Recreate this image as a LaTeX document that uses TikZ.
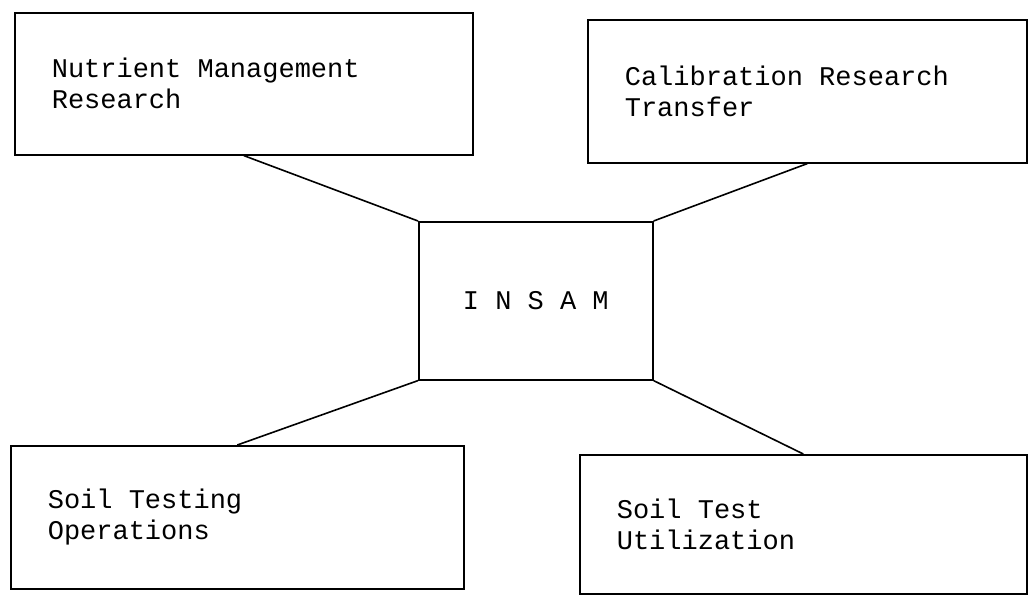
\documentclass[tikz,border=0pt]{standalone}
\usepackage{fontspec}
\setmonofont{Liberation Mono}
\usepackage{tikz}

\begin{document}
\begin{tikzpicture}[x=1pt,y=-1pt,
  panel/.style={draw,line width=1.6pt,anchor=north west,inner xsep=37pt,inner ysep=0pt,
    align=flush left,font=\ttfamily\fontsize{27}{31}\selectfont},
  link/.style={line width=1.6pt}]
\useasboundingbox(0,0)rectangle(1029,599);
% outer boxes
\node[panel,text width=384pt,minimum height=142pt](nutr)at(14,12){Nutrient Management\\Research};
\node[panel,text width=365pt,minimum height=143pt](calib)at(587,19){Calibration Research\\Transfer};
\node[panel,text width=379pt,minimum height=143pt](soil)at(10,445){Soil Testing\\Operations};
\node[panel,text width=373pt,minimum height=139pt](util)at(579,454){Soil Test\\Utilization};
% centre box
\node[panel,align=center,inner xsep=0pt,minimum width=234pt,minimum height=158pt](insam)at(418,221){I N S A M};
\draw[link](nutr.south)--(insam.north west);
\draw[link](calib.south)--(insam.north east);
\draw[link](insam.south west)--(soil.north);
\draw[link](insam.south east)--(util.north);
\end{tikzpicture}
\end{document}
